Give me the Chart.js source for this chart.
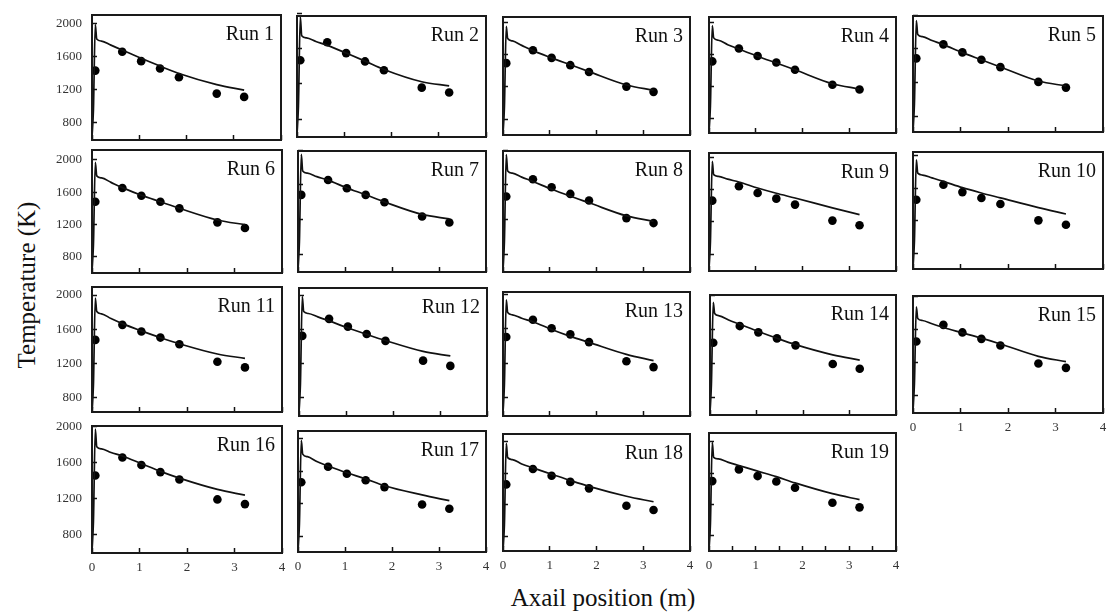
<!DOCTYPE html>
<html>
<head>
<meta charset="utf-8">
<script src="https://cdn.jsdelivr.net/npm/chart.js@4.4.1/dist/chart.umd.min.js"></script>
<style>
  body { margin: 0; background: #fff; }
  #wrap { position: relative; width: 1107px; height: 615px; overflow: hidden; background: #fff;
          font-family: 'Liberation Serif', 'DejaVu Serif', serif; }
  #wrap canvas { position: absolute; }
  .axis-title { position: absolute; font-size: 25px; color: #111; white-space: nowrap; }
  #ytitle { left: 27px; top: 285px; transform: translate(-50%, -50%) rotate(-90deg); }
  #xtitle { left: 603px; top: 598px; transform: translate(-50%, -50%); }
</style>
</head>
<body>
<div id="wrap">
  <div class="axis-title" id="ytitle">Temperature (K)</div>
  <div class="axis-title" id="xtitle">Axail position (m)</div>
</div>
<script>
// axial positions of the thermocouples (m)
const measuredX = [0.07, 0.64, 1.04, 1.44, 1.84, 2.64, 3.22];
// axial grid of the model profile (m)
const modelX = [0, 0.03, 0.07, 0.1, 0.2, 0.4, 0.64, 1.04, 1.44, 1.84, 2.64, 3.22];

const runLabels = ['Run 1', 'Run 2', 'Run 3', 'Run 4', 'Run 5', 'Run 6', 'Run 7', 'Run 8', 'Run 9', 'Run 10',
  'Run 11', 'Run 12', 'Run 13', 'Run 14', 'Run 15', 'Run 16', 'Run 17', 'Run 18', 'Run 19'];

// measured temperatures (K), one row per run
const measuredT = [
  [1430, 1660, 1545, 1455, 1350, 1150, 1110],
  [1470, 1675, 1552, 1457, 1356, 1158, 1103],
  [1495, 1655, 1560, 1470, 1385, 1205, 1140],
  [1510, 1672, 1578, 1496, 1405, 1218, 1157],
  [1487, 1653, 1558, 1470, 1383, 1208, 1140],
  [1481, 1650, 1555, 1481, 1399, 1226, 1156],
  [1486, 1657, 1562, 1486, 1402, 1238, 1169],
  [1467, 1665, 1573, 1497, 1421, 1219, 1162],
  [1464, 1642, 1559, 1489, 1415, 1217, 1159],
  [1457, 1641, 1551, 1478, 1404, 1204, 1151],
  [1475, 1651, 1573, 1502, 1424, 1220, 1153],
  [1522, 1722, 1631, 1545, 1463, 1231, 1169],
  [1502, 1702, 1604, 1533, 1443, 1220, 1153],
  [1443, 1639, 1565, 1494, 1412, 1192, 1137],
  [1460, 1662, 1570, 1492, 1412, 1192, 1140],
  [1460, 1658, 1575, 1497, 1415, 1194, 1142],
  [1465, 1657, 1570, 1490, 1406, 1193, 1139],
  [1460, 1655, 1570, 1492, 1410, 1190, 1135],
  [1498, 1647, 1562, 1494, 1414, 1223, 1164]
];

// predicted temperature profiles (K), one row per run
const modelT = [
  [620, 950, 1990, 1815, 1790, 1740, 1680, 1580, 1485, 1395, 1260, 1192],
  [620, 950, 1966, 1750, 1725, 1685, 1640, 1552, 1460, 1365, 1225, 1178],
  [620, 950, 1950, 1800, 1770, 1715, 1650, 1560, 1475, 1390, 1225, 1160],
  [620, 950, 1960, 1805, 1775, 1720, 1665, 1575, 1490, 1405, 1230, 1164],
  [620, 950, 1935, 1770, 1745, 1700, 1650, 1555, 1470, 1385, 1218, 1160],
  [620, 950, 1967, 1800, 1775, 1720, 1655, 1560, 1480, 1400, 1255, 1197],
  [620, 950, 1950, 1760, 1735, 1695, 1655, 1565, 1488, 1405, 1262, 1211],
  [620, 950, 1950, 1760, 1735, 1690, 1640, 1550, 1470, 1395, 1245, 1181],
  [620, 950, 1950, 1786, 1765, 1730, 1695, 1620, 1555, 1497, 1375, 1291],
  [620, 950, 1947, 1784, 1760, 1725, 1682, 1605, 1540, 1480, 1360, 1282],
  [620, 950, 1965, 1808, 1780, 1725, 1665, 1580, 1500, 1430, 1310, 1259],
  [620, 950, 1984, 1808, 1785, 1745, 1698, 1615, 1540, 1468, 1340, 1286],
  [620, 950, 1935, 1786, 1760, 1720, 1680, 1590, 1510, 1440, 1300, 1228],
  [620, 950, 1918, 1788, 1760, 1710, 1660, 1575, 1495, 1420, 1300, 1239],
  [620, 950, 1880, 1740, 1715, 1675, 1630, 1565, 1500, 1430, 1280, 1215],
  [620, 950, 1975, 1778, 1755, 1715, 1675, 1590, 1505, 1430, 1305, 1242],
  [620, 950, 1980, 1812, 1780, 1720, 1666, 1582, 1507, 1423, 1310, 1239],
  [620, 950, 1980, 1800, 1775, 1720, 1670, 1590, 1510, 1435, 1310, 1240],
  [620, 950, 1990, 1800, 1780, 1740, 1697, 1625, 1555, 1475, 1338, 1262]
];

const yTicks = [800, 1200, 1600, 2000];
const xTicks = [0, 1, 2, 3, 4];
const xTicksHalf = [0, 0.5, 1, 1.5, 2, 2.5, 3, 3.5, 4];

// plot boxes on the page: left, top, right, bottom
const boxes = [
  [92, 15, 281, 140], [297, 16, 486, 137], [503, 17, 690, 135], [709, 17, 896, 133], [913, 16, 1103, 132],
  [92, 150, 282, 273], [298, 151, 486, 272], [503, 151, 690, 272], [709, 153, 896, 271], [913, 152, 1103, 269],
  [92, 287, 282, 412], [299, 288, 487, 416], [503, 292, 690, 416], [710, 295, 896, 415], [913, 296, 1103, 413],
  [92, 426, 282, 553], [298, 431, 486, 552], [503, 434, 690, 551], [709, 433, 896, 551]
];

// temperature span of each panel's vertical axis: bottom, top (K)
const yRanges = [
  [585, 2107], [595, 1975], [606, 2066], [612, 2067], [613, 1990],
  [600, 2120], [602, 1989], [600, 1990], [593, 2054], [607, 2043],
  [631, 2094], [580, 2085], [585, 2025], [592, 2005], [592, 2012],
  [600, 2008], [608, 2096], [615, 2100], [609, 2110]
];

const PAD_L = 50, PAD_T = 10, PAD_R = 10, PAD_B = 30;
const tickFont = { family: "'Liberation Serif', serif", size: 13 };
const ink = '#111';

// fixed axis size, and no label overhang pushing the plot area around
function fixAxis(size) {
  return s => {
    if (s.isHorizontal()) s.height = size; else s.width = size;
    s.paddingTop = s.paddingBottom = s.paddingLeft = s.paddingRight = 0;
  };
}

// box around the plot area plus the run name in the upper right corner
const frame = {
  id: 'frame',
  afterDraw(chart, args, opts) {
    const { ctx, chartArea: a } = chart;
    ctx.save();
    ctx.strokeStyle = '#1a1a1a';
    ctx.lineWidth = 2;
    ctx.strokeRect(a.left, a.top, a.right - a.left, a.bottom - a.top);
    ctx.font = "20px 'Liberation Serif', serif";
    ctx.fillStyle = ink;
    ctx.textAlign = 'right';
    ctx.textBaseline = 'alphabetic';
    ctx.fillText(opts.text, a.right - 7, a.top + 25);
    ctx.restore();
  }
};

const wrap = document.getElementById('wrap');

boxes.forEach(([l, t, r, b], i) => {
  const canvas = document.createElement('canvas');
  canvas.width = r - l + PAD_L + PAD_R;
  canvas.height = b - t + PAD_T + PAD_B;
  canvas.style.left = (l - PAD_L) + 'px';
  canvas.style.top = (t - PAD_T) + 'px';
  wrap.appendChild(canvas);

  const showY = i % 5 === 0;
  const showX = i >= 14;
  const xt = i === 18 ? xTicksHalf : xTicks;
  const [yMin, yMax] = yRanges[i];

  new Chart(canvas, {
    type: 'scatter',
    data: {
      datasets: [
        {
          data: modelX.map((x, k) => ({ x, y: modelT[i][k] })),
          showLine: true,
          borderColor: ink,
          borderWidth: 1.7,
          pointRadius: 0,
          cubicInterpolationMode: 'monotone'
        },
        {
          data: measuredX.map((x, k) => ({ x, y: measuredT[i][k] })),
          pointRadius: 4.3,
          backgroundColor: '#000',
          borderWidth: 0
        }
      ]
    },
    options: {
      responsive: false,
      animation: false,
      devicePixelRatio: 1,
      layout: { autoPadding: false, padding: { left: 0, top: PAD_T, right: PAD_R, bottom: 0 } },
      plugins: { legend: { display: false }, tooltip: { enabled: false }, frame: { text: runLabels[i] } },
      scales: {
        x: {
          type: 'linear', min: 0, max: 4,
          border: { display: false },
          grid: { drawOnChartArea: false, tickLength: -5, tickColor: ink, tickWidth: 1.5 },
          ticks: {
            display: showX, autoSkip: false, maxRotation: 0, padding: 12,
            font: tickFont, color: '#333',
            callback: v => Number.isInteger(v) ? String(v) : ''
          },
          afterBuildTicks: s => { s.ticks = xt.map(v => ({ value: v })); },
          afterFit: fixAxis(PAD_B)
        },
        y: {
          type: 'linear', min: yMin, max: yMax,
          border: { display: false },
          grid: { drawOnChartArea: false, tickLength: -5, tickColor: ink, tickWidth: 1.5 },
          ticks: {
            display: showY, autoSkip: false, padding: 15, font: tickFont, color: '#333',
            callback: v => String(v)
          },
          afterBuildTicks: s => { s.ticks = yTicks.map(v => ({ value: v })); },
          afterFit: fixAxis(PAD_L)
        }
      }
    },
    plugins: [frame]
  });
});
</script>
</body>
</html>
